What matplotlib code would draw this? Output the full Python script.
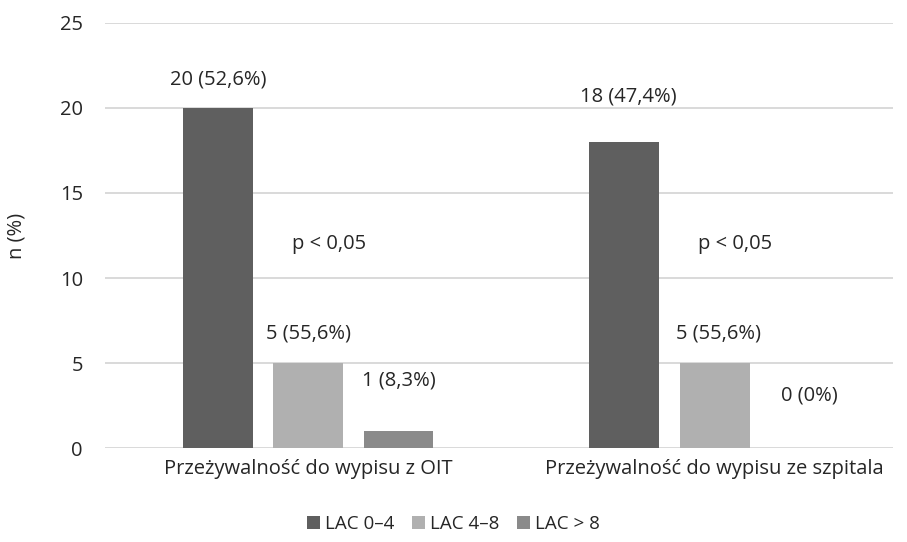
import numpy as np
import matplotlib.pyplot as plt

categories = ["Przeżywalność do wypisu z OIT", "Przeżywalność do wypisu ze szpitala"]
series = ["LAC 0–4", "LAC 4–8", "LAC > 8"]
values = [[20, 18], [5, 5], [1, 0]]
labels = [["20 (52,6%)", "18 (47,4%)"],
          ["5 (55,6%)", "5 (55,6%)"],
          ["1 (8,3%)", "0 (0%)"]]
p_text = ["p < 0,05", "p < 0,05"]
colors = ["#5f5f5f", "#b0b0b0", "#8a8a8a"]

# label heights as placed by hand in the original chart
label_y = [[21.65, 20.65], [6.76, 6.76], [4.0, 3.12]]

plt.rcParams['font.family'] = ['Open Sans', 'DejaVu Sans']
fs = 14.5

fig = plt.figure(figsize=(9.07, 5.42), dpi=100)
ax = fig.add_axes([0.116, 0.173, 0.869, 0.785])

x = np.arange(len(categories))
width = 0.172
step = 0.222
for i, (name, vals) in enumerate(zip(series, values)):
    pos = x + (i - 1) * step
    ax.bar(pos, vals, width, color=colors[i], label=name, zorder=3)
    for j, v in enumerate(vals):
        ax.text(pos[j] + (0.01 if j else 0), label_y[i][j], labels[i][j],
                ha='center', va='center', fontsize=fs, color='#262626')

for j in x:
    ax.text(j + 0.05, 12.0, p_text[j], ha='center', va='center',
            fontsize=fs, color='#262626')

ax.set_xlim(-0.5, 1.44)
ax.set_ylim(0, 25)
ax.set_yticks(np.arange(0, 26, 5))
ax.set_xticks(x)
ax.set_xticklabels(categories, fontsize=fs, color='#262626')
ax.tick_params(axis='both', length=0, labelsize=fs, labelcolor='#262626')
ax.tick_params(axis='y', pad=16)
ax.tick_params(axis='x', pad=8)
ax.grid(axis='y', color='#d9d9d9', linewidth=1.4, zorder=0)
for s in ax.spines.values():
    s.set_visible(False)
ax.set_ylabel("n (%)", fontsize=fs, color='#262626', labelpad=24)

fig.legend(loc='lower center', bbox_to_anchor=(0.5, -0.015), ncol=3,
           frameon=False, fontsize=13.5, handlelength=0.7, handleheight=0.7,
           handletextpad=0.3, columnspacing=0.9, labelcolor='#262626')

fig.savefig('out.png', dpi=100)
